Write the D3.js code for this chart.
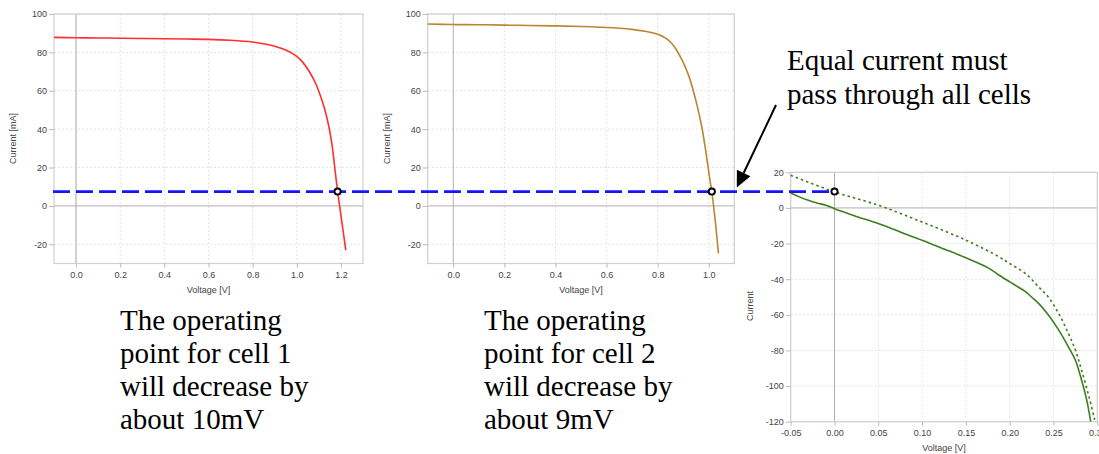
<!DOCTYPE html>
<html><head><meta charset="utf-8">
<script src="https://cdn.jsdelivr.net/npm/d3@7"></script>
<style>body{margin:0;background:#fff;} svg{display:block;background:#fff;}</style>
</head><body><svg id="c" width="1099" height="454"></svg>
<script>
// ---------- data ----------
const cell1Voltage = [-0.1, 0.0, 0.1, 0.2, 0.3, 0.4, 0.5, 0.6, 0.7, 0.8, 0.85, 0.9, 0.95, 1.0, 1.03, 1.06, 1.085, 1.105, 1.125, 1.145, 1.16, 1.172, 1.185, 1.194, 1.208, 1.222];
const cell1Current = [87.8, 87.6, 87.5, 87.4, 87.25, 87.1, 86.95, 86.8, 86.3, 85.4, 84.5, 83.2, 81.2, 77.9, 74.4, 69.4, 63.9, 58.1, 51, 41.5, 31.5, 20, 7.5, 0, -11.5, -23];

const cell2Voltage = [-0.1, 0.0, 0.1, 0.2, 0.3, 0.4, 0.5, 0.6, 0.65, 0.7, 0.75, 0.8, 0.82, 0.84, 0.86, 0.875, 0.9, 0.92, 0.937, 0.955, 0.973, 0.985, 0.996, 1.004, 1.012, 1.018, 1.028, 1.038];
const cell2Current = [94.8, 94.5, 94.4, 94.2, 94.0, 93.8, 93.5, 93.0, 92.6, 92.0, 91.0, 89.4, 88.3, 86.6, 83.9, 81.0, 74.8, 68.4, 61.2, 52, 41, 31.5, 21.5, 14, 7.5, 1.0, -11, -24.7];

const stringVoltage = [-0.05, -0.04, -0.03, -0.02, -0.01, 0, 0.01, 0.025, 0.05, 0.075, 0.1, 0.125, 0.15, 0.175, 0.188, 0.2, 0.21, 0.218, 0.225, 0.233, 0.244, 0.256, 0.267, 0.275, 0.282, 0.288, 0.2925];
const stringCurrent = [8.4, 6.2, 4.3, 2.8, 1.5, -0.4, -2.2, -4.8, -8.8, -13.5, -18.1, -23, -28, -33.5, -37.8, -41.5, -44.5, -47, -50, -53.6, -60, -68.6, -78, -85.5, -96.6, -108, -120];

const shiftedVoltage = [-0.05, 0, 0.05, 0.1, 0.15, 0.188, 0.2, 0.218, 0.233, 0.244, 0.256, 0.267, 0.275, 0.282, 0.2905, 0.297];
const shiftedCurrent = [18.3, 9, 1.5, -7.9, -18.1, -27.5, -31.2, -36.8, -44.3, -50, -59.3, -70.5, -79.8, -91, -106, -119];

const operatingVoltages = [1.185, 1.012, 0.0];
const operatingCurrent = 7.5;   // mA, in cell charts

const cellXTicks1 = [0.0, 0.2, 0.4, 0.6, 0.8, 1.0, 1.2];
const cellXTicks2 = [0.0, 0.2, 0.4, 0.6, 0.8, 1.0];
const cellYTicks = [-20, 0, 20, 40, 60, 80, 100];
const stringXTicks = [-0.05, 0.00, 0.05, 0.10, 0.15, 0.20, 0.25, 0.30];
const stringYTicks = [-120, -100, -80, -60, -40, -20, 0, 20];

const xTitle = "Voltage [V]";
const cellYTitle = "Current [mA]";
const stringYTitle = "Current";
const calloutText = ["Equal current must", "pass through all cells"];
const note1Text = ["The operating", "point for cell 1", "will decrease by", "about 10mV"];
const note2Text = ["The operating", "point for cell 2", "will decrease by", "about 9mV"];

// ---------- drawing ----------
const svg = d3.select("#c");
const sans = "'Liberation Sans', Arial, sans-serif";
const serif = "'Liberation Serif', 'Times New Roman', serif";

function panel(cfg) {
  const x = d3.scaleLinear().domain(cfg.xDomain).range([cfg.left, cfg.right]);
  const y = d3.scaleLinear().domain(cfg.yDomain).range([cfg.bottom, cfg.top]);
  const g = svg.append("g");
  g.selectAll(".gx").data(cfg.xTicks.filter(d => d !== 0)).enter().append("line")
    .attr("x1", d => x(d)).attr("x2", d => x(d)).attr("y1", cfg.top).attr("y2", cfg.bottom)
    .attr("stroke", "#e4e4e4").attr("stroke-dasharray", "2,2");
  g.selectAll(".gy").data(cfg.yTicks.filter(d => d !== 0)).enter().append("line")
    .attr("y1", d => y(d)).attr("y2", d => y(d)).attr("x1", cfg.left).attr("x2", cfg.right)
    .attr("stroke", "#e4e4e4").attr("stroke-dasharray", "2,2");
  g.append("line").attr("x1", x(0)).attr("x2", x(0)).attr("y1", cfg.top).attr("y2", cfg.bottom)
    .attr("stroke", cfg.zeroXColor || "#b0b0b0").attr("stroke-width", cfg.zeroXWidth || 1);
  g.append("line").attr("y1", y(0)).attr("y2", y(0)).attr("x1", cfg.left).attr("x2", cfg.right)
    .attr("stroke", "#b0b0b0").attr("stroke-width", 1);
  g.append("rect").attr("x", cfg.left).attr("y", cfg.top)
    .attr("width", cfg.right - cfg.left).attr("height", cfg.bottom - cfg.top)
    .attr("fill", "none").attr("stroke", "#cfcfcf").attr("stroke-width", 1.2);
  const ax = g.append("g").attr("transform", `translate(0,${cfg.bottom})`)
    .call(d3.axisBottom(x).tickValues(cfg.xTicks).tickSize(4).tickPadding(4).tickFormat(cfg.xFmt));
  const ay = g.append("g").attr("transform", `translate(${cfg.left},0)`)
    .call(d3.axisLeft(y).tickValues(cfg.yTicks).tickSize(5).tickPadding(2).tickFormat(cfg.yFmt));
  [ax, ay].forEach(a => {
    a.select(".domain").remove();
    a.selectAll(".tick line").attr("stroke", "#bbb");
    a.selectAll("text").attr("fill", "#444").attr("font-size", 9).attr("font-family", sans);
  });
  g.append("text").attr("x", (cfg.left + cfg.right) / 2).attr("y", cfg.bottom + 29)
    .attr("text-anchor", "middle").attr("font-size", 9).attr("font-family", sans).attr("fill", "#444")
    .text(xTitle);
  g.append("text").attr("transform", `translate(${cfg.left - 38},${cfg.yTitleY}) rotate(-90)`)
    .attr("text-anchor", "middle").attr("font-size", 9).attr("font-family", sans).attr("fill", "#444")
    .text(cfg.yTitle);
  return {x, y, g};
}

const fmtInt = d => d.toFixed(0);

const p1 = panel({left: 54, right: 363, top: 14, bottom: 263.5, xDomain: [-0.1, 1.3], yDomain: [-30, 100],
  xTicks: cellXTicks1, yTicks: cellYTicks, xFmt: d => d.toFixed(1), yFmt: fmtInt,
  yTitle: cellYTitle, yTitleY: 138.5, zeroXColor: "#d0d0d0", zeroXWidth: 2});
const p2 = panel({left: 427.7, right: 734.3, top: 14, bottom: 263.5, xDomain: [-0.1, 1.1], yDomain: [-30, 100],
  xTicks: cellXTicks2, yTicks: cellYTicks, xFmt: d => d.toFixed(1), yFmt: fmtInt,
  yTitle: cellYTitle, yTitleY: 138.5});
const p3 = panel({left: 790.7, right: 1097.3, top: 172.3, bottom: 421.7, xDomain: [-0.05, 0.3], yDomain: [-120, 20],
  xTicks: stringXTicks, yTicks: stringYTicks, xFmt: d => d.toFixed(2), yFmt: fmtInt,
  yTitle: stringYTitle, yTitleY: 306});

function curve(p, xs, ys, color, dash, width) {
  const pts = xs.map((v, i) => [v, ys[i]]);
  p.g.append("path").datum(pts)
    .attr("d", d3.line().x(d => p.x(d[0])).y(d => p.y(d[1])).curve(d3.curveCatmullRom.alpha(0.5)))
    .attr("fill", "none").attr("stroke", color).attr("stroke-width", width || 1.6)
    .attr("stroke-dasharray", dash || null).attr("stroke-linejoin", "round");
}
curve(p1, cell1Voltage, cell1Current, "#ff2f2f", null, 1.6);
curve(p2, cell2Voltage, cell2Current, "#b8862e", null, 1.6);
curve(p3, shiftedVoltage, shiftedCurrent, "#3f7d1e", "2.5,3", 1.6);
curve(p3, stringVoltage, stringCurrent, "#3f7d1e", null, 1.6);

const yOp = p1.y(operatingCurrent);
svg.append("line").attr("x1", p1.x.range()[0] - 1).attr("x2", p3.x(operatingVoltages[2]))
  .attr("y1", yOp).attr("y2", yOp)
  .attr("stroke", "#1414ff").attr("stroke-width", 2.8).attr("stroke-dasharray", "17,6");

const opPts = [[p1, operatingVoltages[0]], [p2, operatingVoltages[1]], [p3, operatingVoltages[2]]];
svg.selectAll(".op").data(opPts).enter().append("circle")
  .attr("cx", d => d[0].x(d[1])).attr("cy", yOp).attr("r", 3.1)
  .attr("fill", "#fff").attr("stroke", "#000").attr("stroke-width", 1.9);

const tail = [776, 105], tip = [736.8, 187.5];
const dx = tip[0] - tail[0], dy = tip[1] - tail[1], L = Math.hypot(dx, dy);
const ux = dx / L, uy = dy / L, hl = 16, hw = 7.5;
const bx = tip[0] - hl * ux, by = tip[1] - hl * uy;
svg.append("line").attr("x1", tail[0]).attr("y1", tail[1]).attr("x2", bx).attr("y2", by)
  .attr("stroke", "#000").attr("stroke-width", 2);
svg.append("path").attr("d", `M${tip[0]},${tip[1]}L${bx - hw * uy},${by + hw * ux}L${bx + hw * uy},${by - hw * ux}Z`)
  .attr("fill", "#000");

function textBlock(lines, x, y0, lh) {
  svg.append("text").attr("font-family", serif).attr("font-size", 29).attr("fill", "#000")
    .selectAll("tspan").data(lines).enter().append("tspan")
    .attr("x", x).attr("y", (d, i) => y0 + i * lh).text(d => d);
}
textBlock(calloutText, 787, 69.5, 34.5);
textBlock(note1Text, 120, 329.5, 33.3);
textBlock(note2Text, 484, 329.5, 33.3);
</script>
</body></html>
